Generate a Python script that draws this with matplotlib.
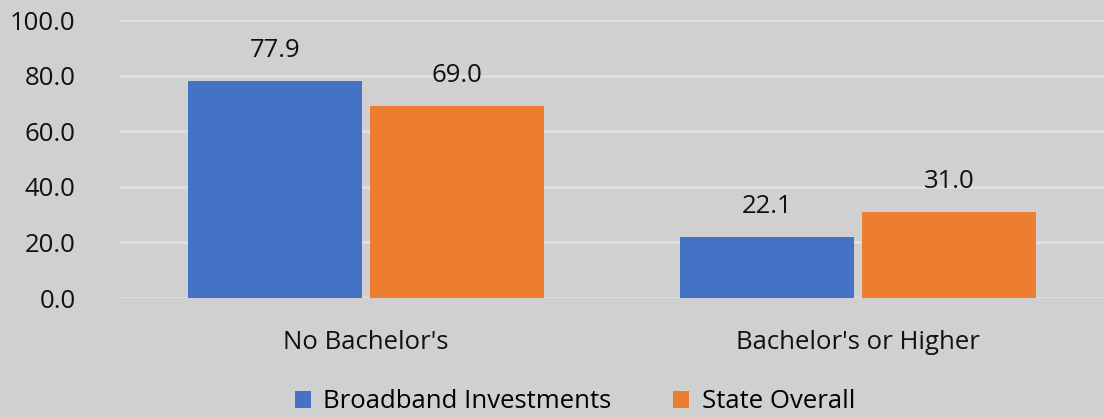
import matplotlib.pyplot as plt
import numpy as np

categories = ["No Bachelor's", "Bachelor's or Higher"]
broadband = [77.9, 22.1]
state_overall = [69.0, 31.0]
series_names = ["Broadband Investments", "State Overall"]

plt.rcParams['font.family'] = ['Open Sans', 'DejaVu Sans']

bg = '#d0d0d0'
fs = 18.5
fig = plt.figure(figsize=(11.04, 4.17), dpi=100, facecolor=bg)
ax = fig.add_axes([120 / 1104, 119 / 417, 984 / 1104, 278 / 417])
ax.set_facecolor(bg)

x = np.arange(len(categories))
width = 0.352
off = 0.185
b1 = ax.bar(x - off, broadband, width, color='#4472c4', label=series_names[0], zorder=3)
b2 = ax.bar(x + off, state_overall, width, color='#ed7d31', label=series_names[1], zorder=3)

for bars in (b1, b2):
    for rect in bars:
        h = rect.get_height()
        ax.annotate(f"{h:.1f}", (rect.get_x() + rect.get_width() / 2, h),
                    xytext=(0, 22), textcoords='offset points',
                    ha='center', va='center', fontsize=fs, color='#111111')

ax.set_xlim(-0.5, 1.5)
ax.set_ylim(0, 100)
ax.set_yticks(np.arange(0, 101, 20))
ax.set_yticklabels([f"{v:.1f}" for v in np.arange(0, 101, 20)])
ax.set_xticks(x)
ax.set_xticklabels(categories)
ax.tick_params(axis='both', length=0, labelsize=fs, colors='#111111')
ax.tick_params(axis='x', pad=23)
ax.tick_params(axis='y', pad=32)
for s in ax.spines.values():
    s.set_visible(False)
ax.grid(axis='y', color='#e0e0e0', linewidth=2, zorder=0)

leg = fig.legend(loc='center', bbox_to_anchor=(575 / 1104, 1 - 402 / 417), ncol=2,
                 frameon=False, fontsize=fs, handlelength=0.6, handleheight=0.6,
                 handletextpad=0.5, columnspacing=2.4)

fig.savefig('out.png', dpi=100, facecolor=bg)
